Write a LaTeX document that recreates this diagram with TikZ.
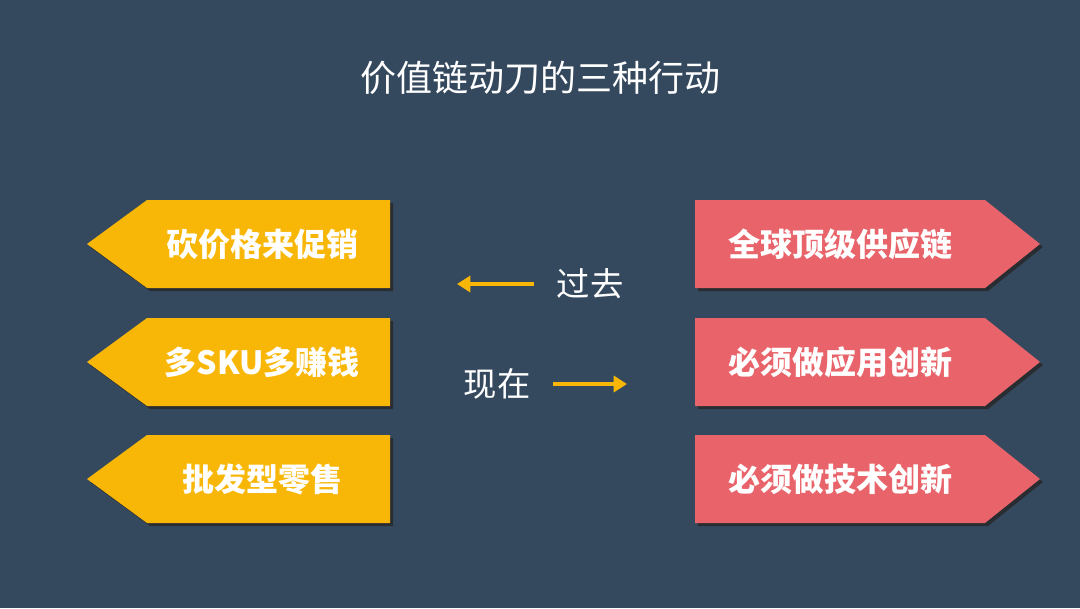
\documentclass[tikz,border=0pt]{standalone}
\usepackage{fontspec}
\newfontfamily\cjk{Noto Sans CJK SC}
\usetikzlibrary{arrows.meta}
\definecolor{bgslate}{HTML}{35495E}
\definecolor{gold}{HTML}{F8B707}
\definecolor{coral}{HTML}{E8646A}
\tikzset{
  lbl/.style={font=\cjk\bfseries\fontsize{24}{28}\selectfont,text=white},
  note/.style={font=\cjk\fontsize{25}{30}\selectfont,text=white},
  shade/.style={fill=black!85,opacity=0.8},
  hint/.style={draw=gold,line width=3.5pt,-{Triangle[length=10pt,width=12pt]}}
}
\begin{document}
\begin{tikzpicture}[x=0.75pt,y=-0.75pt]
\fill[bgslate] (0,0) rectangle (1080,608);
\useasboundingbox (0,0) rectangle (1080,608);
% title
\node[font=\cjk\fontsize{27}{32}\selectfont,text=white] (title) at (540,78) {价值链动刀的三种行动};
% left boxes
\foreach \y/\name/\txt in {200/cut/砍价格来促销,318/sku/多SKU多赚钱,435/whole/批发型零售}{
  \fill[shade] (90,\y+44+3) -- (150,\y+3) -- (393,\y+3) -- (393,\y+91) -- (150,\y+91) -- cycle;
  \fill[gold] (87,\y+44) -- (147,\y) -- (390,\y) -- (390,\y+88) -- (147,\y+88) -- cycle;
  \node[lbl] (\name) at (262,\y+44) {\txt};
}
% right boxes
\foreach \y/\name/\txt in {200/chain/全球顶级供应链,318/app/必须做应用创新,435/tech/必须做技术创新}{
  \fill[shade] (698,\y+3) -- (988,\y+3) -- (1043,\y+47) -- (988,\y+91) -- (698,\y+91) -- cycle;
  \fill[coral] (695,\y) -- (985,\y) -- (1040,\y+44) -- (985,\y+88) -- (695,\y+88) -- cycle;
  \node[lbl] (\name) at (840,\y+44) {\txt};
}
% middle hints
\node[note] (past) at (590,284) {过去};
\node[note] (now) at (497,384) {现在};
\coordinate (pastend) at (457,284);
\coordinate (nowend) at (627,384);
\draw[hint] (past.west) ++(-18,0) -- (pastend);
\draw[hint] (now.east) ++(18,0) -- (nowend);
\end{tikzpicture}
\end{document}
